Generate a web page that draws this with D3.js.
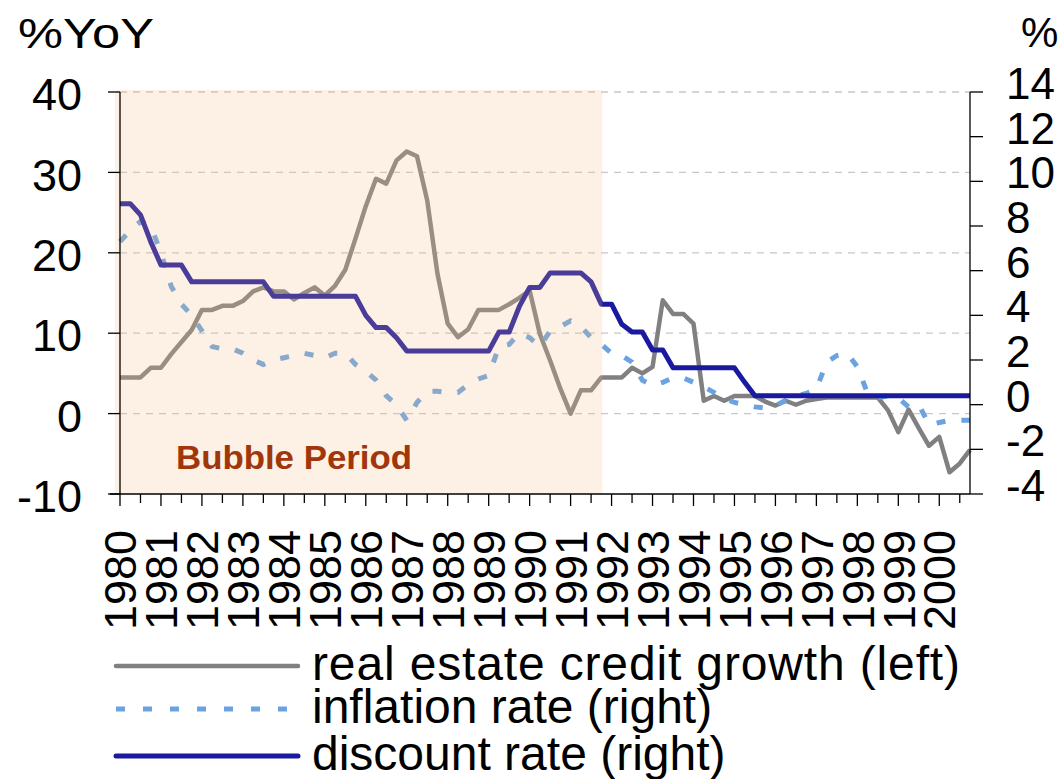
<!DOCTYPE html>
<html><head><meta charset="utf-8">
<script src="https://cdn.jsdelivr.net/npm/d3@7"></script>
<style>body{margin:0;background:#fff} text{font-family:"Liberation Sans",Arial,sans-serif;fill:#000}</style>
</head><body><svg id="c" width="1064" height="779"></svg>
<script>
const years = [1980,1981,1982,1983,1984,1985,1986,1987,1988,1989,1990,1991,1992,1993,1994,1995,1996,1997,1998,1999,2000];
const quarterNames = ["Q1","Q2","Q3","Q4"];
const categories = years.flatMap(y => quarterNames.map(q => y + q));

const realEstateCredit = [
  4.5,4.5,4.5,5.7,5.7,7.4,8.9,10.4,12.9,12.9,
  13.4,13.4,14.0,15.2,15.7,15.2,15.2,14.2,15.0,15.7,
  14.7,15.9,17.9,21.8,25.8,29.2,28.6,31.5,32.6,32.0,
  26.5,17.4,11.2,9.5,10.5,12.9,12.9,12.9,13.6,14.4,
  15.3,9.9,6.6,3.1,0.0,2.9,2.9,4.5,4.5,4.5,
  5.7,5.0,5.8,14.1,12.4,12.4,11.2,1.6,2.2,1.6,
  2.2,2.2,2.2,1.5,1.0,1.6,1.1,1.6,1.8,2.0,
  2.0,2.0,2.0,2.0,2.0,0.4,-2.3,0.5,-1.8,-4.0,
  -2.9,-7.3,-6.2,-4.5];
const inflation = [
  7.3,7.8,8.2,8.0,6.8,5.3,4.5,4.0,3.3,2.6,
  2.5,2.5,2.3,2.0,1.8,2.0,2.1,2.2,2.3,2.2,
  2.1,2.3,2.3,1.8,1.5,1.1,0.4,0.0,-0.7,0.1,
  0.6,0.6,0.55,0.55,0.9,1.15,1.3,2.6,2.7,3.2,
  3.0,2.6,3.3,3.5,3.75,3.5,3.0,2.7,2.3,2.2,
  1.9,1.1,0.85,1.0,1.2,1.2,1.0,0.8,0.55,0.3,
  0.1,0.0,-0.1,-0.15,-0.05,0.2,0.4,0.5,0.7,1.9,
  2.2,2.3,1.7,0.5,0.3,0.4,0.3,-0.1,0.0,-0.9,
  -0.8,-0.7,-0.7,-0.7];
const discountRate = [
  9.0,9.0,8.5,7.3,6.25,6.25,6.25,5.5,5.5,5.5,
  5.5,5.5,5.5,5.5,5.5,4.85,4.85,4.85,4.85,4.85,
  4.85,4.85,4.85,4.85,4.0,3.45,3.45,3.0,2.4,2.4,
  2.4,2.4,2.4,2.4,2.4,2.4,2.4,3.25,3.25,4.4,
  5.25,5.25,5.9,5.9,5.9,5.9,5.5,4.5,4.5,3.6,
  3.25,3.25,2.45,2.45,1.65,1.65,1.65,1.65,1.65,1.65,
  1.65,1.0,0.4,0.4,0.4,0.4,0.4,0.4,0.4,0.4,
  0.4,0.4,0.4,0.4,0.4,0.4,0.4,0.4,0.4,0.4,
  0.4,0.4,0.4,0.4];

const leftTicks = [40,30,20,10,0,-10];
const rightTicks = [14,12,10,8,6,4,2,0,-2,-4];
const bubbleStart = "1980Q1", bubbleEnd = "1991Q4";
const legendItems = ["real estate credit growth (left)","inflation rate (right)","discount rate (right)"];

const svg = d3.select("#c");
const x = d3.scalePoint().domain(categories).range([120, 970]);
const step = x.step();
const yL = d3.scaleLinear().domain([-10, 40]).range([494, 92]);
const yR = d3.scaleLinear().domain([-4, 14]).range([494, 92]);

// gridlines
svg.append("g").selectAll("line").data(leftTicks.filter(d => d > -10)).join("line")
  .attr("x1", 120).attr("x2", 970).attr("y1", d => yL(d)).attr("y2", d => yL(d))
  .attr("stroke", "#c8c8c8").attr("stroke-width", 1.3).attr("stroke-dasharray", "7,6");

// series
const lineL = d3.line().x((d,i) => x(categories[i])).y(d => yL(d));
const lineR = d3.line().x((d,i) => x(categories[i])).y(d => yR(d));
svg.append("path").attr("d", lineL(realEstateCredit)).attr("fill","none")
  .attr("stroke","#808080").attr("stroke-width",4.5).attr("stroke-linejoin","round");
svg.append("path").attr("d", lineR(inflation)).attr("fill","none")
  .attr("stroke","#6aa3e0").attr("stroke-width",5).attr("stroke-dasharray","9,16");
svg.append("path").attr("d", lineR(discountRate)).attr("fill","none")
  .attr("stroke","#1a1aa0").attr("stroke-width",5).attr("stroke-linejoin","round");

// bubble shading overlay
svg.append("rect").attr("x", x(bubbleStart) - 5).attr("y", 90)
  .attr("width", x(bubbleEnd) - x(bubbleStart) + 6).attr("height", 494 - 90)
  .attr("fill", "rgb(246,187,132)").attr("fill-opacity", 0.22);

svg.append("text").attr("x", 176).attr("y", 469).text("Bubble Period")
  .style("font-weight","bold").style("font-size","34px").style("fill","#a0360a")
  .attr("textLength", 236).attr("lengthAdjust","spacingAndGlyphs");

// axes lines
const ax = svg.append("g").attr("stroke","#000").attr("stroke-width",1.3);
ax.append("line").attr("x1",120).attr("x2",120).attr("y1",92).attr("y2",494);
ax.append("line").attr("x1",970).attr("x2",970).attr("y1",92).attr("y2",494);
ax.append("line").attr("x1",110).attr("x2",970).attr("y1",494).attr("y2",494);
ax.selectAll(".tl").data(leftTicks).join("line")
  .attr("x1",108).attr("x2",120).attr("y1",d=>yL(d)).attr("y2",d=>yL(d));
ax.selectAll(".tr").data(rightTicks).join("line")
  .attr("x1",970).attr("x2",983).attr("y1",d=>yR(d)).attr("y2",d=>yR(d));
const tickCats = categories.filter(c => c.endsWith("Q1") || c.endsWith("Q3"));
ax.selectAll(".tx").data(tickCats).join("line")
  .attr("x1",d=>x(d)).attr("x2",d=>x(d)).attr("y1",494).attr("y2",d => d.endsWith("Q1") ? 506 : 503);

// tick labels
svg.append("g").selectAll("text").data(leftTicks).join("text")
  .attr("x", 82).attr("y", d => yL(d) + 2).attr("dy","0.36em").attr("text-anchor","end")
  .style("font-size","45px").text(d => d);
svg.append("g").selectAll("text").data(rightTicks).join("text")
  .attr("x", 1006).attr("y", d => yR(d) - 9).attr("dy","0.36em")
  .style("font-size","44px").text(d => d);
svg.append("g").selectAll("text").data(years).join("text")
  .attr("transform", d => `translate(${x(d+"Q1")},530) rotate(-90)`)
  .attr("dy","0.36em").attr("text-anchor","end").style("font-size","45px").text(d => d);

// axis titles
svg.append("text").attr("x",18).attr("y",48).style("font-size","42px").text("%YoY")
  .attr("textLength",136).attr("lengthAdjust","spacingAndGlyphs");
svg.append("text").attr("x",1021).attr("y",47).style("font-size","42px").text("%");

// legend
const lg = svg.append("g");
const legY = [666, 709, 756];
const legStyles = [
  {c:"#808080", w:4.5, dash:null},
  {c:"#6aa3e0", w:5, dash:"9,18"},
  {c:"#1a1aa0", w:5, dash:null}];
legendItems.forEach((t,i) => {
  lg.append("line").attr("x1",116).attr("x2",298).attr("y1",legY[i]).attr("y2",legY[i])
    .attr("stroke",legStyles[i].c).attr("stroke-width",legStyles[i].w)
    .attr("stroke-dasharray",legStyles[i].dash).attr("stroke-linecap", legStyles[i].dash ? "butt" : "round");
  const tx = lg.append("text").attr("x",312).attr("y",legY[i]+14).style("font-size","48px").text(t);
  if (i === 0) tx.attr("textLength",648).attr("lengthAdjust","spacing");
});
</script></body></html>
